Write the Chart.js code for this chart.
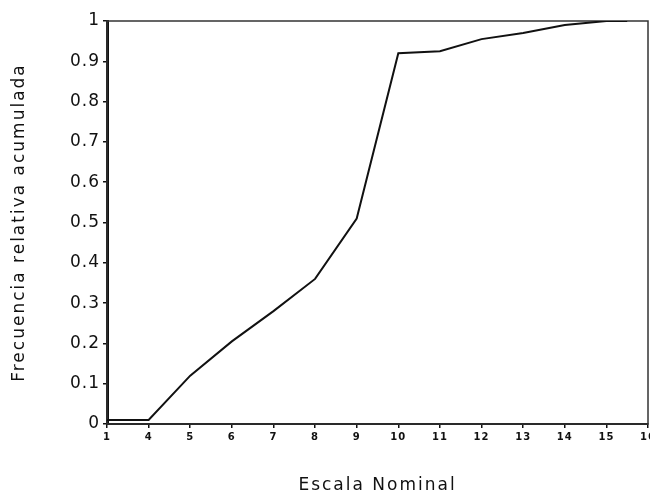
<!DOCTYPE html>
<html>
<head>
<meta charset="utf-8">
<script src="https://cdn.jsdelivr.net/npm/chart.js@4/dist/chart.umd.min.js"></script>
<style>
  html, body { margin: 0; padding: 0; background: #fff; }
  #wrap { width: 650px; height: 497px; position: relative; }
</style>
</head>
<body>
<div id="wrap"><canvas id="chart"></canvas></div>
<script>
/* ── Data ───────────────────────────────────────────────────────────────── */

// Tick labels of the nominal scale, as printed under the axis
const SCALE_LABELS = ['1', '4', '5', '6', '7', '8', '9', '10', '11', '12', '13', '14', '15', '16'];

// Position of each point along the axis (in label steps); the last one sits
// half way between 15 and 16, where the curve stops in the picture
const POINT_POS = [0, 1, 2, 3, 4, 5, 6, 7, 8, 9, 10, 11, 12, 12.5];

// Cumulative relative frequency
const CUM_FREQ = [0.01, 0.01, 0.12, 0.205, 0.28, 0.36, 0.51, 0.92, 0.925, 0.955, 0.97, 0.99, 1.0, 1.0];

const Y_TICKS = [0, 0.1, 0.2, 0.3, 0.4, 0.5, 0.6, 0.7, 0.8, 0.9, 1];

/* ── Style ──────────────────────────────────────────────────────────────── */

const COLORS = {
    ink:   '#111111',
    frame: '#333333',
    text:  '#111111',
};

const LABEL_SPACING = '1px';   // tick labels
const TITLE_SPACING = '2px';   // axis titles

Chart.defaults.font.family = "'DejaVu Sans', sans-serif";
Chart.defaults.color = COLORS.text;

// Axis titles in the original are widely spaced; wrap the title drawing
// so it gets its own letter spacing.
const baseDrawTitle = Chart.Scale.prototype.drawTitle;
Chart.Scale.prototype.drawTitle = function () {
    this.ctx.save();
    this.ctx.letterSpacing = TITLE_SPACING;
    baseDrawTitle.call(this);
    this.ctx.restore();
};

// Thin box round the plot area (top and right edges of the frame)
const framePlugin = {
    id: 'frame',
    beforeDatasetsDraw(chart) {
        const { ctx, chartArea: a } = chart;
        ctx.save();
        ctx.strokeStyle = COLORS.frame;
        ctx.lineWidth = 1.5;
        ctx.strokeRect(a.left, a.top, a.right - a.left, a.bottom - a.top);
        ctx.restore();
    },
};

const spacingPlugin = {
    id: 'spacing',
    beforeDraw(chart) { chart.ctx.letterSpacing = LABEL_SPACING; },
    afterDraw(chart)  { chart.ctx.letterSpacing = '0px'; },
};

/* ── Chart ──────────────────────────────────────────────────────────────── */

new Chart(document.getElementById('chart'), {
    type: 'line',
    data: {
        datasets: [{
            data: POINT_POS.map((x, i) => ({ x, y: CUM_FREQ[i] })),
            borderColor: COLORS.ink,
            borderWidth: 2,
            pointRadius: 0,
            tension: 0,
            fill: false,
        }],
    },
    options: {
        responsive: true,
        maintainAspectRatio: false,
        animation: false,
        layout: { padding: { top: 21, right: 2, left: 0, bottom: 0 } },
        plugins: {
            legend:  { display: false },
            tooltip: { enabled: false },
        },
        scales: {
            x: {
                type: 'linear',
                min: 0,
                max: SCALE_LABELS.length - 1,
                afterFit: s => {
                    s.height = 73;
                    s.paddingLeft = 0;
                    s.paddingRight = 0;
                },
                afterBuildTicks: s => {
                    s.ticks = SCALE_LABELS.map((_, i) => ({ value: i }));
                },
                border: { display: true, color: COLORS.ink, width: 2 },
                grid: {
                    display: true,
                    drawOnChartArea: false,
                    drawTicks: true,
                    tickLength: 4,
                    color: COLORS.ink,
                    lineWidth: 1.5,
                },
                ticks: {
                    autoSkip: false,
                    maxRotation: 0,
                    padding: 3,
                    font: { size: 10, weight: 'bold' },
                    callback: v => SCALE_LABELS[v],
                },
                title: {
                    display: true,
                    text: 'Escala Nominal',
                    font: { size: 17 },
                    padding: { top: 0, bottom: 1 },
                    color: COLORS.text,
                },
            },
            y: {
                min: 0,
                max: 1,
                afterFit: s => { s.width = 107; },
                afterBuildTicks: s => {
                    s.ticks = Y_TICKS.map(v => ({ value: v }));
                },
                border: { display: true, color: COLORS.ink, width: 3 },
                grid: {
                    display: true,
                    drawOnChartArea: false,
                    drawTicks: true,
                    tickLength: 4,
                    color: COLORS.ink,
                    lineWidth: 1.5,
                },
                ticks: {
                    padding: 3,
                    font: { size: 17 },
                    callback: v => String(v),
                },
                title: {
                    display: true,
                    text: 'Frecuencia relativa acumulada',
                    font: { size: 17 },
                    padding: { top: 9, bottom: 0 },
                    color: COLORS.text,
                },
            },
        },
    },
    plugins: [framePlugin, spacingPlugin],
});
</script>
</body>
</html>
